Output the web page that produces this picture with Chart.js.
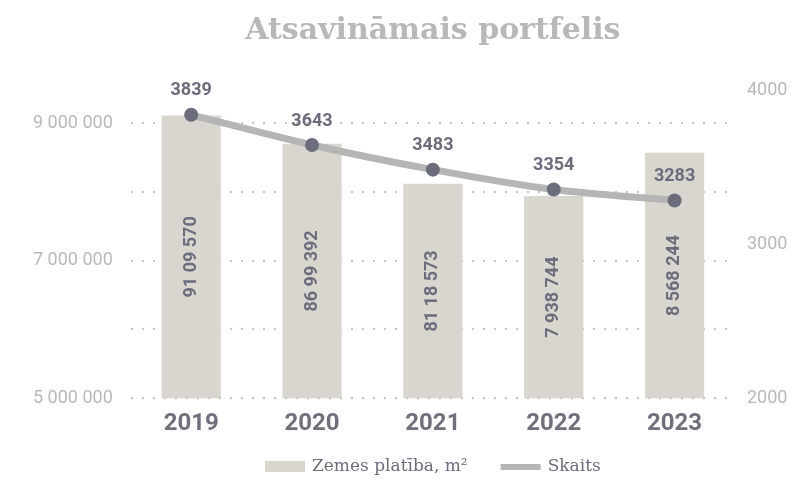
<!DOCTYPE html>
<html>
<head>
<meta charset="utf-8">
<script src="https://cdn.jsdelivr.net/npm/chart.js@4.4.1/dist/chart.umd.min.js"></script>
<style>
  html, body { margin: 0; padding: 0; background: #ffffff; }
  #wrap { width: 798px; height: 482px; }
</style>
</head>
<body>
<div id="wrap"><canvas id="c" width="798" height="482"></canvas></div>
<script>
const years = ['2019', '2020', '2021', '2022', '2023'];
const landArea = [9109570, 8699392, 8118573, 7938744, 8568244];
const landAreaLabels = ['91 09 570', '86 99 392', '81 18 573', '7 938 744', '8 568 244'];
const count = [3839, 3643, 3483, 3354, 3283];
const leftGridValues = [5000000, 6000000, 7000000, 8000000, 9000000];
const leftTickLabels = [5000000, 7000000, 9000000];
const rightTicks = [2000, 3000, 4000];

const titleText = 'Atsavināmais portfelis';
const seriesNames = ['Zemes platība, m²', 'Skaits'];

const BAR_COLOR = '#d8d6cf';
const LINE_COLOR = '#b5b5b5';
const POINT_COLOR = '#6b6d7d';
const LABEL_COLOR = '#6b6d7d';
const TICK_COLOR = '#b9b9b9';
const GRID_COLOR = '#c6c6c6';

function spaced(n) {
  return String(n).replace(/\B(?=(\d{3})+(?!\d))/g, ' ');
}

const labelPlugin = {
  id: 'valueLabels',
  afterDatasetsDraw(chart) {
    const ctx = chart.ctx;
    const area = chart.chartArea;
    // bottom dotted baseline drawn over the bars
    const yb = chart.scales.y.getPixelForValue(leftGridValues[0]);
    ctx.save();
    ctx.strokeStyle = GRID_COLOR;
    ctx.lineWidth = 2;
    ctx.setLineDash([2, 9]);
    ctx.beginPath();
    ctx.moveTo(area.left, yb);
    ctx.lineTo(area.right, yb);
    ctx.stroke();
    ctx.restore();

    const barMeta = chart.getDatasetMeta(0);
    ctx.save();
    ctx.fillStyle = LABEL_COLOR;
    ctx.font = 'bold 18px Roboto';
    ctx.textAlign = 'center';
    ctx.textBaseline = 'middle';
    barMeta.data.forEach((bar, i) => {
      const bottom = Math.min(bar.base, area.bottom);
      const cy = (bar.y + bottom) / 2;
      ctx.save();
      ctx.translate(bar.x, cy);
      ctx.rotate(-Math.PI / 2);
      ctx.fillText(landAreaLabels[i], 0, 0);
      ctx.restore();
    });
    const lineMeta = chart.getDatasetMeta(1);
    ctx.font = 'bold 18px Roboto';
    lineMeta.data.forEach((pt, i) => {
      ctx.fillText(String(count[i]), pt.x, pt.y - 24);
    });
    ctx.restore();
  }
};

const legendPlugin = {
  id: 'customLegend',
  afterDraw(chart) {
    const ctx = chart.ctx;
    const area = chart.chartArea;
    ctx.save();
    ctx.font = '17px "DejaVu Serif"';
    ctx.textBaseline = 'middle';
    ctx.textAlign = 'left';
    const y = 467;
    const boxW = 40, gapText = 7, gapItem = 33;
    const w1 = ctx.measureText(seriesNames[0]).width;
    const w2 = ctx.measureText(seriesNames[1]).width;
    const total = boxW + gapText + w1 + gapItem + boxW + gapText + w2;
    let x = (area.left + area.right) / 2 - total / 2;
    ctx.fillStyle = BAR_COLOR;
    ctx.fillRect(x, y - 6, boxW, 11);
    x += boxW + gapText;
    ctx.fillStyle = LABEL_COLOR;
    ctx.fillText(seriesNames[0], x, y);
    x += w1 + gapItem;
    ctx.fillStyle = LINE_COLOR;
    ctx.fillRect(x, y - 3, boxW, 6);
    x += boxW + gapText;
    ctx.fillStyle = LABEL_COLOR;
    ctx.fillText(seriesNames[1], x, y);
    ctx.restore();
  }
};

new Chart(document.getElementById('c'), {
  data: {
    labels: years,
    datasets: [
      {
        type: 'bar',
        label: seriesNames[0],
        data: landArea,
        backgroundColor: BAR_COLOR,
        borderWidth: 0,
        yAxisID: 'y',
        order: 2,
        barPercentage: 0.49,
        categoryPercentage: 1
      },
      {
        type: 'line',
        label: seriesNames[1],
        data: count,
        borderColor: LINE_COLOR,
        backgroundColor: LINE_COLOR,
        borderWidth: 7,
        tension: 0.3,
        pointRadius: 7,
        pointHoverRadius: 7,
        pointBackgroundColor: POINT_COLOR,
        pointBorderWidth: 0,
        yAxisID: 'y1',
        order: 1
      }
    ]
  },
  options: {
    responsive: false,
    animation: false,
    layout: { padding: { left: 15, right: 3, top: 0, bottom: 41 } },
    plugins: {
      title: {
        display: true,
        fullSize: false,
        text: titleText,
        color: '#b8b8b8',
        font: { family: 'DejaVu Serif', size: 30, weight: 'bold' },
        padding: { top: 13, bottom: 41 }
      },
      legend: { display: false },
      tooltip: { enabled: false }
    },
    scales: {
      x: {
        grid: { display: false },
        border: { display: false },
        ticks: {
          color: '#6f707b',
          font: { family: 'Roboto', size: 24, weight: 'bold' },
          padding: 3
        }
      },
      y: {
        position: 'left',
        min: 5000000,
        max: 9480000,
        border: { display: false, dash: [2, 9] },
        grid: {
          color: GRID_COLOR,
          lineWidth: 2,
          drawTicks: false
        },
        afterBuildTicks: (axis) => { axis.ticks = leftGridValues.map(v => ({ value: v })); },
        ticks: {
          autoSkip: false,
          color: TICK_COLOR,
          font: { family: 'Roboto', size: 18 },
          padding: 18,
          callback: (v) => leftTickLabels.includes(v) ? spaced(v) : ''
        }
      },
      y1: {
        position: 'right',
        min: 2000,
        max: 4000,
        border: { display: false },
        grid: { display: false, drawOnChartArea: false, drawTicks: false },
        afterBuildTicks: (axis) => { axis.ticks = rightTicks.map(v => ({ value: v })); },
        afterFit: (axis) => { axis.width = 60; },
        ticks: {
          autoSkip: false,
          color: TICK_COLOR,
          font: { family: 'Roboto', size: 18 },
          padding: 12,
          callback: (v) => String(v)
        }
      }
    }
  },
  plugins: [labelPlugin, legendPlugin]
});
</script>
</body>
</html>
